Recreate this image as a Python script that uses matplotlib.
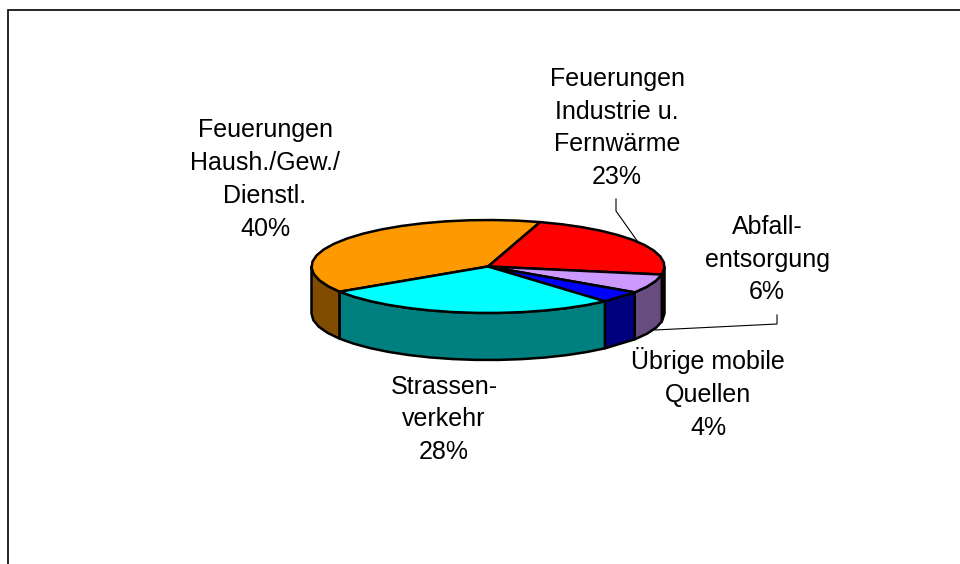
import numpy as np
import matplotlib
matplotlib.use("Agg")
import matplotlib.pyplot as plt
from matplotlib.patches import Polygon

# Data (clockwise from the start angle)
names = ["Feuerungen\nIndustrie u.\nFernwärme", "Abfall-\nentsorgung",
         "Übrige mobile\nQuellen", "Strassen-\nverkehr",
         "Feuerungen\nHaush./Gew./\nDienstl."]
values = [23.0, 6.6, 4.1, 27.4, 38.9]
percent_labels = ["23%", "6%", "4%", "28%", "40%"]
top_colors = ["#FF0000", "#CC99FF", "#0000FF", "#00FFFF", "#FF9900"]
side_colors = ["#7F0000", "#664C7F", "#00007F", "#007F7F", "#7F4C00"]
label_pos = [(617, 128), (767, 259.5), (708, 393.5), (444, 419.5), (265, 179.5)]

# Geometry in pixels
CX, CY, RX, RY, DEPTH = 488, 266.5, 176.5, 46.5, 47
START = 72.8
STEP = 7.5

plt.rcParams["font.family"] = ["Liberation Sans", "DejaVu Sans"]
fig = plt.figure(figsize=(9.6, 5.64), dpi=100)
ax = fig.add_axes([0, 0, 1, 1])
ax.set_xlim(0, 960)
ax.set_ylim(564, 0)
ax.axis("off")

EDGE = dict(edgecolor="black", linewidth=1.8, joinstyle="round")


def arc(a0, a1):
    n = max(2, int(abs(a1 - a0) / STEP) + 1)
    t = np.radians(np.linspace(a0, a1, n))
    return np.column_stack([CX + RX * np.cos(t), CY - RY * np.sin(t)])


shares = np.array(values) / sum(values) * 360
ends = START - np.cumsum(shares)
starts = ends + shares
order = [4, 0, 1, 2, 3]

# Side walls: only the front half of the rim (180..360 degrees) is visible
for i in order:
    hi, lo = starts[i], ends[i]
    for shift in (0, -360, 360):
        a1 = min(hi + shift, 360)
        a0 = max(lo + shift, 180)
        if a1 > a0:
            rim = arc(a0, a1)
            pts = np.vstack([rim, rim[::-1] + [0, DEPTH]])
            ax.add_patch(Polygon(pts, closed=True, facecolor=side_colors[i], zorder=2, **EDGE))

# Top faces
for i in order:
    pts = np.vstack([[CX, CY], arc(starts[i], ends[i])])
    ax.add_patch(Polygon(pts, closed=True, facecolor=top_colors[i], zorder=3, **EDGE))

# Frame: only the top and left edges fall inside the picture
ax.plot([8, 8, 960], [564, 10, 10], color="black", lw=1.2, solid_joinstyle="miter", zorder=1)

# Leader lines
ax.plot([616, 616, 638], [199, 211, 242], color="black", lw=0.8, zorder=4)
ax.plot([777, 777, 655], [315, 324, 330], color="black", lw=0.8, zorder=4)

# Labels
for name, pct, (x, y) in zip(names, percent_labels, label_pos):
    ax.text(x, y, f"{name}\n{pct}", ha="center", va="center",
            fontsize=18, color="black", linespacing=1.47, zorder=5)

fig.savefig("out.png", dpi=100)
